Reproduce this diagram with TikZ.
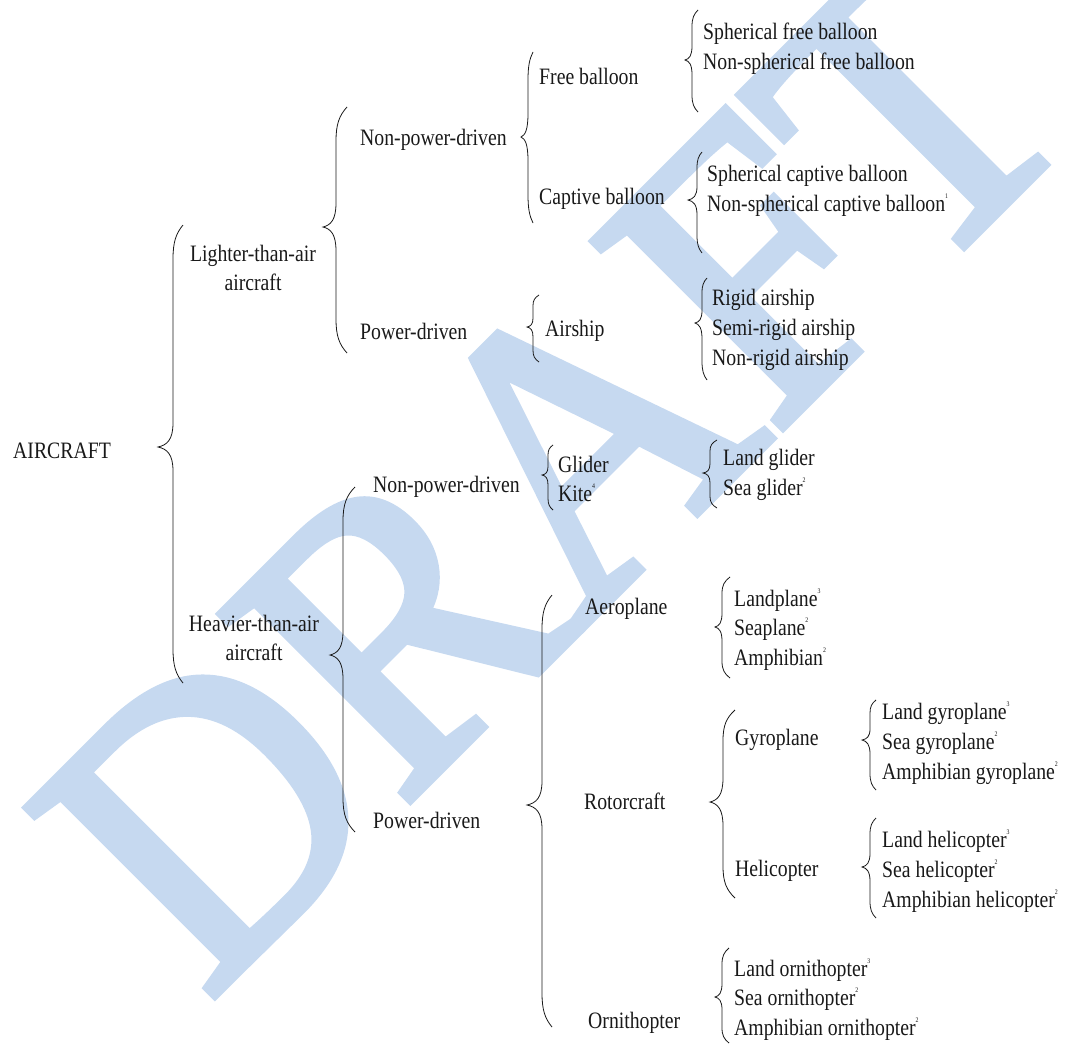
\documentclass[tikz,border=0pt]{standalone}
\usepackage{fontspec}
\setmainfont{Liberation Serif}[FakeStretch=0.84]
\newfontfamily\wmfont{Liberation Serif}[FakeStretch=0.937,FakeBold=2.2]
\definecolor{wmblue}{RGB}{198,217,240}
\definecolor{inkc}{RGB}{25,25,25}
\newcommand\sups[1]{\raisebox{0.55em}{\fontsize{7}{7}\selectfont #1}}
% brace: line x, end offset, tip offset, ytop, ymid, ybot
\newcommand\cbrace[6]{%
 \pgfmathsetmacro\bhA{min(34,0.33*(#5-#4))}%
 \pgfmathsetmacro\bhB{min(24,0.28*(#5-#4))}%
 \pgfmathsetmacro\bhC{min(34,0.33*(#6-#5))}%
 \pgfmathsetmacro\bhD{min(24,0.28*(#6-#5))}%
 \draw[brc] (#1+#2,#4) .. controls (#1+0.3*#2,#4+0.25*\bhA) and (#1,#4+0.5*\bhA) .. (#1,#4+\bhA)
   -- (#1,#5-\bhB) .. controls (#1,#5-0.3*\bhB) and (#1-0.4*#3,#5-0.08*\bhB) .. (#1-#3,#5)
   .. controls (#1-0.4*#3,#5+0.08*\bhD) and (#1,#5+0.3*\bhD) .. (#1,#5+\bhD)
   -- (#1,#6-\bhC) .. controls (#1,#6-0.5*\bhC) and (#1+0.3*#2,#6-0.25*\bhC) .. (#1+#2,#6);}
\begin{document}
\begin{tikzpicture}[x=1pt,y=-1pt,
  lbl/.style={anchor=west,inner sep=0,text height=18pt,text depth=2pt,
    font=\fontsize{23.5}{29}\selectfont,text=inkc},
  lbl2/.style={inner sep=0,align=center,anchor=center,
    font=\fontsize{23.5}{29}\selectfont,text=inkc},
  brc/.style={draw=inkc,line width=0.8pt}]
\useasboundingbox (0,0) rectangle (1065,1047);
% watermark
\node[rotate=45,anchor=base west,inner sep=0,text=wmblue,
  font={\wmfont\fontsize{405}{405}\selectfont}] (wm) at (207,1003) {DRAFT};
% level 0
\node[lbl] (aircraft) at (13,450) {AIRCRAFT};
\cbrace{173}{10}{15}{225}{447}{683}
% level 1
\node[lbl2] (lta) at (253,268) {Lighter-than-air\\aircraft};
\node[lbl2] (hta) at (254,638) {Heavier-than-air\\aircraft};
\cbrace{336}{11}{13}{107}{227}{353}
\cbrace{343}{12}{13}{487}{655}{832}
% level 2
\node[lbl] (npd1) at (360,137) {Non-power-driven};
\node[lbl] (pd1) at (360,331) {Power-driven};
\node[lbl] (npd2) at (373,484) {Non-power-driven};
\node[lbl] (pd2) at (373,820) {Power-driven};
\cbrace{528}{5}{7}{52}{137}{223}
\cbrace{533}{6}{6}{295}{327}{362}
\cbrace{548}{5}{6}{445}{475}{510}
\cbrace{542}{10}{15}{595}{805}{1027}
% level 3
\node[lbl] (free) at (539,76) {Free balloon};
\node[lbl] (captive) at (539,196) {Captive balloon};
\node[lbl] (airship) at (545,328) {Airship};
\node[lbl] (glider) at (558,464) {Glider};
\node[lbl] (kite) at (558,493) {Kite\sups{4}};
\node[lbl] (aero) at (585,606) {Aeroplane};
\node[lbl] (rotor) at (584,801) {Rotorcraft};
\node[lbl] (ornith) at (588,1020) {Ornithopter};
\cbrace{692}{6}{7}{10}{60}{112}
\cbrace{697}{5}{9}{152}{200}{253}
\cbrace{702}{5}{7}{278}{323}{380}
\cbrace{710}{7}{7}{440}{473}{508}
\cbrace{722}{8}{7}{577}{627}{678}
\cbrace{723}{12}{13}{710}{802}{898}
\cbrace{722}{7}{7}{948}{997}{1043}
% level 4
\node[lbl] (sfb) at (703,31) {Spherical free balloon};
\node[lbl] (nsfb) at (703,61) {Non-spherical free balloon};
\node[lbl] (scb) at (707,173) {Spherical captive balloon};
\node[lbl] (nscb) at (707,203) {Non-spherical captive balloon\sups{1}};
\node[lbl] (rigid) at (712,297) {Rigid airship};
\node[lbl] (semi) at (712,327) {Semi-rigid airship};
\node[lbl] (nonrigid) at (712,357) {Non-rigid airship};
\node[lbl] (landg) at (723,457) {Land glider};
\node[lbl] (seag) at (723,487) {Sea glider\sups{2}};
\node[lbl] (landp) at (734,598) {Landplane\sups{3}};
\node[lbl] (seap) at (734,627) {Seaplane\sups{2}};
\node[lbl] (amph) at (734,657) {Amphibian\sups{2}};
\node[lbl] (gyro) at (735,737) {Gyroplane};
\node[lbl] (heli) at (735,868) {Helicopter};
\node[lbl] (lando) at (734,968) {Land ornithopter\sups{3}};
\node[lbl] (seao) at (734,997) {Sea ornithopter\sups{2}};
\node[lbl] (amo) at (734,1027) {Amphibian ornithopter\sups{2}};
\cbrace{870}{6}{8}{700}{740}{790}
\cbrace{870}{6}{8}{818}{867}{918}
% level 5
\node[lbl] (lgy) at (882,711) {Land gyroplane\sups{3}};
\node[lbl] (sgy) at (882,741) {Sea gyroplane\sups{2}};
\node[lbl] (agy) at (882,771) {Amphibian gyroplane\sups{2}};
\node[lbl] (lhe) at (882,839) {Land helicopter\sups{3}};
\node[lbl] (she) at (882,869) {Sea helicopter\sups{2}};
\node[lbl] (ahe) at (882,899) {Amphibian helicopter\sups{2}};
\end{tikzpicture}
\end{document}
